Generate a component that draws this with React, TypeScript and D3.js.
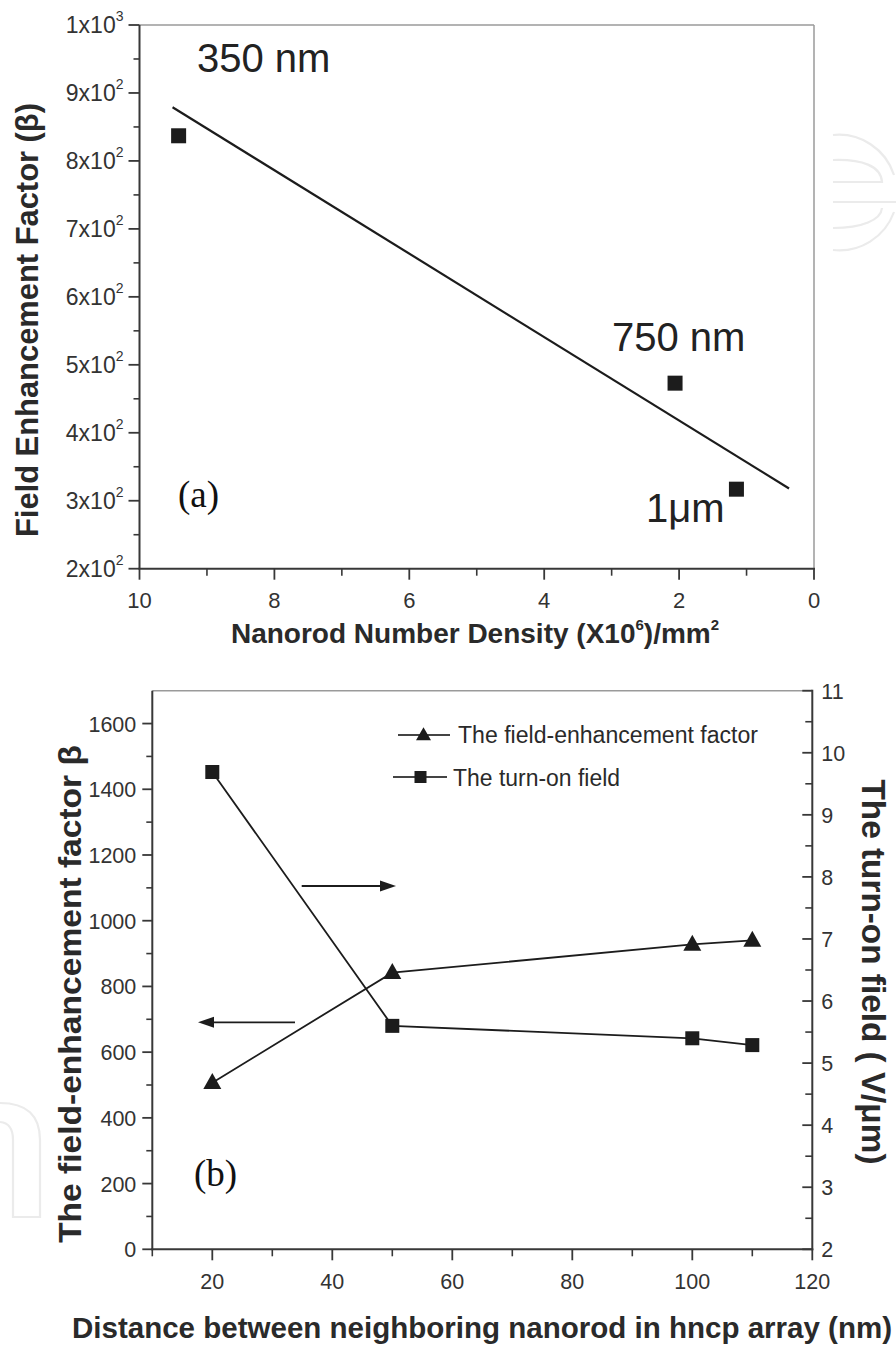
import React from "react";
import * as d3 from "d3";

// ---------- Panel (a) data ----------
const densityX = [9.42, 2.06, 1.15];
const betaA = [837, 473, 317];
const fitX = [9.51, 0.37];
const fitY = [879, 318];
const aYTicks = [200, 300, 400, 500, 600, 700, 800, 900, 1000];
const aXTicks = [10, 8, 6, 4, 2, 0];
const aPointLabels = ["350 nm", "750 nm", "1\u03bcm"];

// ---------- Panel (b) data ----------
const distance = [20, 50, 100, 110];
const betaB = [507, 842, 928, 940];
const turnOn = [9.69, 5.6, 5.4, 5.29];
const bLeftTicks = [0, 200, 400, 600, 800, 1000, 1200, 1400, 1600];
const bRightTicks = [2, 3, 4, 5, 6, 7, 8, 9, 10, 11];
const bXTicks = [20, 40, 60, 80, 100, 120];
const legendLabels = ["The field-enhancement factor", "The turn-on field"];

const SANS = "'Liberation Sans', Arial, Helvetica, sans-serif";
const SERIF = "'Liberation Serif', 'Times New Roman', serif";
const AX = "#383838";
const BORDER = "#9a9a9a";
const INK = "#1c1c1c";
const WM = "#ebebeb";

function tri(cx: number, cy: number, w: number, h: number) {
  return `M${cx},${cy - h * 0.6} L${cx + w / 2},${cy + h * 0.4} L${cx - w / 2},${cy + h * 0.4} Z`;
}

export default function App() {
  // Panel (a) scales
  const xA = d3.scaleLinear().domain([10, 0]).range([139.5, 814]);
  const yA = d3.scaleLinear().domain([200, 1000]).range([568.7, 25]);
  const aYMinor = d3.range(250, 1000, 100);
  const aXMinor = d3.range(1, 10, 2);
  const fitLine = d3
    .line<number>()
    .x((_, i) => xA(fitX[i]))
    .y((d) => yA(d))(fitY);

  // Panel (b) scales
  const xB = d3.scaleLinear().domain([10, 120]).range([152.3, 812.3]);
  const yL = d3.scaleLinear().domain([0, 1700]).range([1249.3, 690.7]);
  const yR = d3.scaleLinear().domain([2, 11]).range([1249.3, 690.7]);
  const bLeftMinor = d3.range(100, 1700, 200);
  const bRightMinor = d3.range(2.5, 11, 1);
  const bXMinor = d3.range(30, 120, 20).concat([10]);
  const betaLine = d3
    .line<number>()
    .x((_, i) => xB(distance[i]))
    .y((d) => yL(d))(betaB);
  const turnLine = d3
    .line<number>()
    .x((_, i) => xB(distance[i]))
    .y((d) => yR(d))(turnOn);

  const sq = 15;
  const sqB = 14;

  return (
    <svg
      width={896}
      height={1349}
      viewBox="0 0 896 1349"
      style={{ position: "absolute", left: 0, top: 0, background: "#fff" }}
    >
      <rect x={0} y={0} width={896} height={1349} fill="#fff" />

      {/* faint watermark shapes */}
      <g fill="none" stroke={WM} strokeWidth={2.2}>
        <path d="M833,135 A58,58 0 0 1 894,175" />
        <path d="M833,250 A58,58 0 0 0 894,212" />
        <path d="M833,160 C862,159 881,166 882,182 L833,182" />
        <path d="M833,202 L896,202" />
        <path d="M882,208 C881,220 862,228 833,228" />
        <path d="M0,1103 Q40,1103 40,1140 L40,1217 L13,1217 L13,1140 Q13,1123 0,1122" />
      </g>

      {/* ================= Panel (a) ================= */}
      <g>
        <line x1={xA(10)} x2={xA(0)} y1={yA(1000)} y2={yA(1000)} stroke={BORDER} strokeWidth={1.5} />
        <line x1={xA(0)} x2={xA(0)} y1={yA(1000)} y2={yA(200)} stroke={BORDER} strokeWidth={1.5} />
        <line x1={xA(10)} x2={xA(10)} y1={yA(1000)} y2={yA(200)} stroke={AX} strokeWidth={2} />
        <line x1={xA(10) - 1} x2={xA(0) + 1} y1={yA(200)} y2={yA(200)} stroke={AX} strokeWidth={2} />
        {aYTicks.map((v) => (
          <g key={"ay" + v}>
            <line x1={xA(10) - 11} x2={xA(10)} y1={yA(v)} y2={yA(v)} stroke={AX} strokeWidth={1.8} />
            <text
              x={xA(10) - 16}
              y={yA(v) + 8}
              textAnchor="end"
              fontFamily={SANS}
              fontSize={23}
              fill="#333"
            >
              {v >= 1000 ? "1x10" : `${v / 100}x10`}
              <tspan fontSize={14} dy={-12}>
                {v >= 1000 ? "3" : "2"}
              </tspan>
            </text>
          </g>
        ))}
        {aYMinor.map((v) => (
          <line key={"aym" + v} x1={xA(10) - 6} x2={xA(10)} y1={yA(v)} y2={yA(v)} stroke={AX} strokeWidth={1.6} />
        ))}
        {aXTicks.map((v) => (
          <g key={"ax" + v}>
            <line x1={xA(v)} x2={xA(v)} y1={yA(200)} y2={yA(200) + 11} stroke={AX} strokeWidth={1.8} />
            <text x={xA(v)} y={608} textAnchor="middle" fontFamily={SANS} fontSize={22} fill="#333">
              {v}
            </text>
          </g>
        ))}
        {aXMinor.map((v) => (
          <line key={"axm" + v} x1={xA(v)} x2={xA(v)} y1={yA(200)} y2={yA(200) + 7} stroke={AX} strokeWidth={1.6} />
        ))}

        <path d={fitLine || ""} fill="none" stroke={INK} strokeWidth={2.2} />
        {densityX.map((x, i) => (
          <rect key={"ap" + i} x={xA(x) - sq / 2} y={yA(betaA[i]) - sq / 2} width={sq} height={sq} fill={INK} />
        ))}

        <text x={197} y={72} fontFamily={SANS} fontSize={40} fill="#222">
          {aPointLabels[0]}
        </text>
        <text x={612} y={351} fontFamily={SANS} fontSize={40} fill="#222">
          {aPointLabels[1]}
        </text>
        <text x={646} y={522} fontFamily={SANS} fontSize={40} fill="#222">
          {aPointLabels[2]}
        </text>
        <text x={178} y={507} fontFamily={SERIF} fontSize={37} fill="#111">
          (a)
        </text>

        <text
          transform={`translate(38, 320) rotate(-90)`}
          textAnchor="middle"
          fontFamily={SANS}
          fontWeight="bold"
          fontSize={31}
          textLength={434}
          lengthAdjust="spacingAndGlyphs"
          fill="#2a2a2a"
        >
          Field Enhancement Factor ({"\u03b2"})
        </text>
        <text x={475} y={643} textAnchor="middle" fontFamily={SANS} fontWeight="bold" fontSize={28} fill="#2a2a2a">
          Nanorod Number Density (X10
          <tspan fontSize={15} dy={-13}>6</tspan>
          <tspan dy={13}>)/mm</tspan>
          <tspan fontSize={15} dy={-13}>2</tspan>
        </text>
      </g>

      {/* ================= Panel (b) ================= */}
      <g>
        <line x1={xB(10)} x2={xB(120)} y1={yL(1700)} y2={yL(1700)} stroke={BORDER} strokeWidth={1.5} />
        <line x1={xB(10)} x2={xB(10)} y1={yL(1700)} y2={yL(0) + 1} stroke={AX} strokeWidth={2} />
        <line x1={xB(10) - 1} x2={xB(120) + 1} y1={yL(0)} y2={yL(0)} stroke={AX} strokeWidth={2} />
        <line x1={xB(120)} x2={xB(120)} y1={yR(11) - 1} y2={yR(2) + 1} stroke={AX} strokeWidth={2} />

        {bLeftTicks.map((v) => (
          <g key={"bl" + v}>
            <line x1={xB(10) - 10} x2={xB(10)} y1={yL(v)} y2={yL(v)} stroke={AX} strokeWidth={1.8} />
            <text x={xB(10) - 16} y={yL(v) + 8} textAnchor="end" fontFamily={SANS} fontSize={21.5} fill="#333">
              {v}
            </text>
          </g>
        ))}
        {bLeftMinor.map((v) => (
          <line key={"blm" + v} x1={xB(10) - 6} x2={xB(10)} y1={yL(v)} y2={yL(v)} stroke={AX} strokeWidth={1.6} />
        ))}
        {bRightTicks.map((v) => (
          <g key={"br" + v}>
            <line x1={xB(120) - 10} x2={xB(120)} y1={yR(v)} y2={yR(v)} stroke={AX} strokeWidth={1.8} />
            <text x={xB(120) + 9} y={yR(v) + 8} textAnchor="start" fontFamily={SANS} fontSize={21.5} fill="#333">
              {v}
            </text>
          </g>
        ))}
        {bRightMinor.map((v) => (
          <line key={"brm" + v} x1={xB(120) - 7} x2={xB(120)} y1={yR(v)} y2={yR(v)} stroke={AX} strokeWidth={1.6} />
        ))}
        {bXTicks.map((v) => (
          <g key={"bx" + v}>
            <line x1={xB(v)} x2={xB(v)} y1={yL(0)} y2={yL(0) + 11} stroke={AX} strokeWidth={1.8} />
            <text x={xB(v)} y={1289} textAnchor="middle" fontFamily={SANS} fontSize={21.5} fill="#333">
              {v}
            </text>
          </g>
        ))}
        {bXMinor.map((v) => (
          <line key={"bxm" + v} x1={xB(v)} x2={xB(v)} y1={yL(0)} y2={yL(0) + 7} stroke={AX} strokeWidth={1.6} />
        ))}

        <path d={betaLine || ""} fill="none" stroke={INK} strokeWidth={1.8} />
        <path d={turnLine || ""} fill="none" stroke={INK} strokeWidth={1.8} />
        {distance.map((x, i) => (
          <path key={"bt" + i} d={tri(xB(x), yL(betaB[i]), 18, 16)} fill={INK} />
        ))}
        {distance.map((x, i) => (
          <rect key={"bs" + i} x={xB(x) - sqB / 2} y={yR(turnOn[i]) - sqB / 2} width={sqB} height={sqB} fill={INK} />
        ))}

        {/* arrows */}
        <line x1={301.7} x2={384} y1={886} y2={886} stroke={INK} strokeWidth={1.8} />
        <path d="M396,886 L380,880.5 L380,891.5 Z" fill={INK} />
        <line x1={210} x2={295} y1={1022.3} y2={1022.3} stroke={INK} strokeWidth={1.8} />
        <path d="M198,1022.3 L214,1016.8 L214,1027.8 Z" fill={INK} />

        {/* legend */}
        <line x1={398} x2={450} y1={735} y2={735} stroke="#444" strokeWidth={1.8} />
        <path d={tri(423.5, 735, 15, 13)} fill={INK} />
        <text
          x={458}
          y={743}
          fontFamily={SANS}
          fontSize={23}
          textLength={300}
          lengthAdjust="spacingAndGlyphs"
          fill="#2a2a2a"
        >
          {legendLabels[0]}
        </text>
        <line x1={393} x2={447} y1={777} y2={777} stroke="#444" strokeWidth={1.8} />
        <rect x={420.5 - 6} y={777 - 6} width={12} height={12} fill={INK} />
        <text
          x={453}
          y={786}
          fontFamily={SANS}
          fontSize={23}
          textLength={167}
          lengthAdjust="spacingAndGlyphs"
          fill="#2a2a2a"
        >
          {legendLabels[1]}
        </text>

        <text x={194} y={1186} fontFamily={SERIF} fontSize={37} fill="#111">
          (b)
        </text>

        <text
          transform={`translate(81, 994) rotate(-90)`}
          textAnchor="middle"
          fontFamily={SANS}
          fontWeight="bold"
          fontSize={32}
          textLength={498}
          lengthAdjust="spacingAndGlyphs"
          fill="#2a2a2a"
        >
          The field-enhancement factor {"\u03b2"}
        </text>
        <text
          transform={`translate(862, 972) rotate(90)`}
          textAnchor="middle"
          fontFamily={SANS}
          fontWeight="bold"
          fontSize={32.5}
          textLength={385}
          lengthAdjust="spacingAndGlyphs"
          fill="#2a2a2a"
        >
          The turn-on field ( V/{"\u03bc"}m)
        </text>
        <text
          x={482}
          y={1338}
          textAnchor="middle"
          fontFamily={SANS}
          fontWeight="bold"
          fontSize={29.5}
          textLength={820}
          lengthAdjust="spacingAndGlyphs"
          fill="#2a2a2a"
        >
          Distance between neighboring nanorod in hncp array (nm)
        </text>
      </g>
    </svg>
  );
}
